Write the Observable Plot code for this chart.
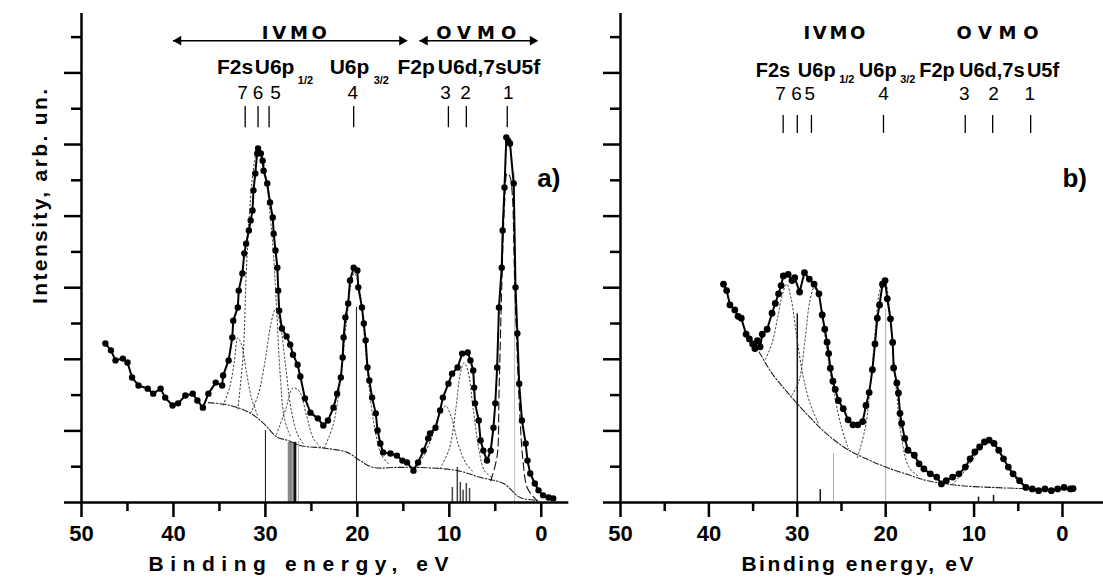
<!DOCTYPE html>
<html><head><meta charset="utf-8">
<script src="https://cdn.jsdelivr.net/npm/d3@7"></script>
<script src="https://cdn.jsdelivr.net/npm/@observablehq/plot@0.6"></script>
<style>
body{margin:0;background:#fff;}
#wrap{display:flex;width:1103px;height:578px;overflow:hidden;}
#wrap svg{flex:none;}
</style></head><body><div id="wrap"></div>
<script>
// ---------- axis ticks ----------
const majorX = [50, 40, 30, 20, 10, 0];
const minorX = [45, 35, 25, 15, 5];
const majorY = [0, 2, 4, 6, 8, 10, 12];
const minorY = [1, 3, 5, 7, 9, 11, 13];
const yTop = 13.66;

// ---------- panel a: experimental spectrum [eV, intensity] ----------
const expA = [
[47.4,4.44],[46.8,4.25],[46.3,3.97],[45.5,4.02],[45.0,3.91],[44.5,3.49],[43.8,3.27],[42.8,3.18],[42.2,3.04],[41.4,3.18],[40.9,2.93],[40.1,2.71],[39.5,2.77],[38.7,2.99],[37.9,3.04],[37.4,2.85],[36.8,2.65],[36.2,3.04],[35.4,3.35],[34.7,3.27],[34.6,3.55],[34.0,3.97],[33.6,4.61],[33.5,5.08],[33.0,5.45],[32.9,5.92],[32.5,6.40],[32.3,6.96],[32.1,7.23],[31.8,7.60],[31.6,7.88],[31.4,8.16],[31.3,8.72],[31.1,9.19],[30.9,9.75],[30.8,9.89],[30.5,9.75],[30.3,9.55],[30.2,9.27],[29.8,8.91],[29.5,8.38],[29.2,7.96],[29.1,7.51],[28.9,7.04],[28.7,6.56],[28.6,5.92],[28.5,5.36],[28.2,4.86],[27.7,4.64],[27.3,4.41],[27.0,4.13],[26.5,3.85],[26.2,3.52],[25.7,2.91],[25.1,2.51],[24.3,2.35],[23.7,2.15],[23.2,2.29],[22.6,2.65],[22.2,3.04],[21.8,3.49],[21.6,4.05],[21.5,4.61],[21.3,5.17],[21.0,5.56],[20.8,6.20],[20.4,6.56],[20.0,6.48],[19.9,6.01],[19.5,5.45],[19.3,5.00],[19.1,4.53],[18.9,3.77],[18.7,3.41],[18.4,2.93],[18.0,2.49],[17.8,2.01],[17.5,1.65],[17.2,1.40],[16.4,1.37],[15.7,1.31],[15.1,1.17],[14.6,1.12],[13.9,0.89],[13.4,1.12],[12.8,1.45],[12.3,1.79],[12.1,1.93],[11.5,2.09],[11.0,2.57],[10.7,2.93],[10.1,3.32],[9.7,3.60],[9.1,3.77],[8.6,4.16],[8.0,4.19],[7.7,3.97],[7.4,3.69],[7.3,3.21],[7.2,2.77],[6.8,2.29],[6.6,1.73],[6.3,1.45],[5.9,1.17],[5.5,1.45],[5.2,2.09],[5.0,2.77],[4.8,3.77],[4.6,5.45],[4.3,6.56],[4.2,7.60],[4.0,8.80],[3.8,10.20],[3.6,10.11],[3.4,10.03],[3.0,8.91],[2.8,6.01],[2.6,4.72],[2.4,3.32],[2.1,2.29],[1.7,1.65],[1.5,1.17],[1.2,0.81],[0.7,0.53],[0.3,0.34],[-0.2,0.20],[-0.8,0.14],[-1.3,0.11]
];
const bgA = [[36.2,2.79],[33.8,2.71],[31.6,2.49],[30.2,2.21],[28.7,1.82],[27.5,1.73],[26.2,1.59],[23.3,1.51],[21.1,1.40],[19.7,1.17],[18.3,0.98],[15.7,0.98],[13.2,0.98],[9.1,0.89],[6.6,0.70],[4.1,0.53],[2.3,0.14],[0.4,0.06]];
const peakA7 = [[34.6,2.72],[33.9,3.2],[33.4,3.9],[33.0,4.6],[32.6,4.4],[32.1,3.7],[31.5,2.9],[30.8,2.4]];
const peakA6 = [[33.0,2.6],[32.4,4.2],[32.1,6.3],[31.7,8.2],[31.2,9.5],[30.8,9.9],[30.3,9.6],[29.8,8.8],[29.2,7.2],[28.8,5.5],[28.4,3.6],[27.9,2.3],[27.2,1.8]];
const peakA5 = [[31.6,2.5],[30.8,3.0],[30.0,4.0],[29.4,5.0],[28.9,5.4],[28.4,5.0],[27.8,3.8],[27.2,2.6],[26.5,1.9],[25.8,1.62]];
const peakA5b = [[28.8,1.9],[27.8,2.6],[27.0,3.2],[26.3,3.1],[25.5,2.4],[24.8,1.8],[24.0,1.55]];
const peakA4 = [[23.6,1.52],[22.6,2.2],[21.8,3.5],[21.2,5.0],[20.7,6.1],[20.3,6.4],[19.8,6.0],[19.3,4.8],[18.8,3.4],[18.2,2.2],[17.4,1.35],[16.5,1.05]];
const peakA3 = [[13.8,0.98],[12.8,1.3],[11.8,1.9],[11.0,2.5],[10.4,2.7],[9.8,2.4],[9.0,1.6],[8.2,1.1],[7.4,0.85]];
const peakA2 = [[11.0,0.95],[10.0,1.5],[9.3,2.6],[8.8,3.6],[8.4,3.9],[8.0,3.7],[7.4,2.6],[6.8,1.5],[6.2,0.9],[5.4,0.7]];
const peakA1 = [[5.5,0.6],[4.8,1.3],[4.6,3.0],[4.3,6.0],[4.0,8.3],[3.7,9.2],[3.4,9.1],[3.15,8.6],[2.9,6.2],[2.6,4.0],[2.3,2.3],[2.0,1.2],[1.5,0.4],[0.5,0.06]];
const theoryA_thin = [[30.0,2.01],[20.1,5.45]];
const theoryA_pale = [[26.4,1.7],[2.9,9.2]];
const theoryA_grey = [[27.3,1.68]];
const theoryA_bold = [[26.8,1.68]];
const theoryA_ovmo = [[9.67,0.42],[9.13,0.98],[8.8,0.56],[8.5,0.34],[8.15,0.53],[7.8,0.39]];

// ---------- panel b ----------
const expB = [
[38.35,6.10],[37.99,5.92],[37.62,5.52],[37.07,5.38],[36.70,5.20],[36.34,5.15],[35.79,4.70],[35.42,4.57],[35.05,4.43],[34.8,4.30],[34.51,4.52],[34.2,4.35],[33.96,4.70],[33.41,4.84],[32.86,5.29],[32.49,5.56],[32.12,5.83],[31.83,6.06],[31.58,6.33],[31.03,6.37],[30.6,6.20],[30.29,6.28],[29.74,5.88],[29.19,6.42],[28.64,6.24],[28.10,6.10],[27.55,5.83],[27.18,5.24],[26.89,4.84],[26.63,4.48],[26.45,4.16],[26.26,3.75],[25.97,3.39],[25.71,3.16],[25.35,2.85],[24.80,2.62],[24.25,2.31],[23.70,2.17],[23.15,2.17],[22.60,2.26],[22.23,2.71],[21.87,3.07],[21.50,3.71],[21.21,4.43],[20.95,5.15],[20.70,5.52],[20.36,6.10],[20.07,6.20],[19.82,5.69],[19.46,5.13],[19.21,4.47],[19.10,3.76],[18.74,3.34],[18.56,3.06],[18.38,2.49],[18.20,2.21],[17.84,1.79],[17.48,1.46],[16.76,1.32],[16.22,1.08],[15.68,0.94],[14.95,0.80],[14.23,0.71],[13.69,0.52],[13.15,0.61],[12.43,0.71],[11.71,0.80],[10.99,0.99],[10.45,1.22],[9.91,1.41],[9.37,1.55],[8.83,1.69],[8.29,1.74],[7.75,1.65],[7.21,1.46],[6.67,1.22],[6.13,0.99],[5.59,0.80],[4.86,0.61],[4.14,0.42],[3.42,0.38],[2.70,0.33],[1.98,0.38],[1.26,0.33],[0.54,0.38],[-0.18,0.42],[-0.90,0.38],[-1.2,0.39]
];
const bgB = [[34.3,4.2],[32.9,3.62],[31.4,3.16],[30.0,2.76],[28.8,2.44],[27.4,2.08],[25.9,1.76],[24.1,1.45],[22.2,1.22],[20.0,0.99],[17.5,0.78],[15.3,0.61],[11.5,0.47],[7.8,0.42],[4.75,0.39],[3.0,0.38]];
const peakB7 = [[33.6,4.0],[32.8,4.5],[32.2,5.2],[31.7,5.8],[31.2,6.1],[30.7,5.7],[30.1,4.7],[29.4,3.6],[28.6,2.8],[27.6,2.2]];
const peakB5 = [[30.6,3.0],[29.8,3.4],[29.1,4.6],[28.6,5.6],[28.1,6.0],[27.5,5.7],[27.0,4.9],[26.5,4.0],[25.8,3.0],[25.0,2.1],[24.2,1.5]];
const peakB4 = [[23.2,1.25],[22.3,2.1],[21.6,3.6],[21.1,5.0],[20.6,6.0],[20.1,6.2],[19.6,5.5],[19.2,4.3],[18.7,2.9],[18.2,1.8],[17.4,1.0],[16.4,0.75]];
const peakB2 = [[12.5,0.5],[11.0,0.9],[9.8,1.35],[8.8,1.65],[8.0,1.7],[7.2,1.45],[6.3,1.05],[5.4,0.7],[4.4,0.45]];
const theoryB_bold = [[30.0,5.27],[27.4,0.36],[9.5,0.15],[7.8,0.2]];
const theoryB_pale = [[20.0,5.4],[25.9,1.37]];

// ---------- annotation texts [text, eV] ----------
const groupsA = [["IVMO",26.85],["OVMO",7.07]];
const arrowsA = [[40.0,14.6],[13.2,0.4]];
const orbitalsA = [["F2s",33.3],["U6p",29.0],["U6p",20.85],["F2p",13.6],["U6d,7s",7.5],["U5f",1.95]];
const subsA = [["1/2",25.65],["3/2",17.4]];
const numbersA = [["7",32.5],["6",30.8],["5",28.9],["4",20.5],["3",10.4],["2",8.25],["1",3.6]];
const marksA = [32.2,30.8,29.6,20.4,10.1,8.15,3.7];

const groupsB = [["IVMO",25.8],["OVMO",7.35]];
const orbitalsB = [["F2s",32.75],["U6p",27.8],["U6p",20.9],["F2p",14.2],["U6d,7s",8.0],["U5f",2.2]];
const subsB = [["1/2",24.4],["3/2",17.5]];
const numbersB = [["7",31.9],["6",30.1],["5",28.6],["4",20.25],["3",11.1],["2",7.8],["1",3.7]];
const boldNumbersB = ["4","1"];
const marksB = [31.6,30.0,28.4,20.25,11.0,7.9,3.6];

const X = d => d[0], Y = d => d[1];
const font = "Liberation Sans, Arial, Helvetica, sans-serif";
const wideFont = "DejaVu Sans, Liberation Sans, sans-serif";

function panel(cfg) {
  const dotted = {x: X, y: Y, stroke: "#333", strokeWidth: 1, strokeDasharray: "1.5,2.5", curve: "catmull-rom"};
  const marks = [];
  for (const t of cfg.theory) {
    marks.push(Plot.ruleX(t.data, {x: X, y1: () => 0, y2: Y, stroke: t.stroke, strokeWidth: t.w}));
  }
  marks.push(Plot.line(cfg.bg, {x: X, y: Y, stroke: "#222", strokeWidth: 1.1, strokeDasharray: "6,2,1.5,2", curve: "catmull-rom"}));
  for (const p of cfg.peaks) marks.push(Plot.line(p, dotted));
  if (cfg.dashPeak) marks.push(Plot.line(cfg.dashPeak, {x: X, y: Y, stroke: "#111", strokeWidth: 1.1, strokeDasharray: "8,4", curve: "catmull-rom"}));
  marks.push(Plot.line(cfg.exp, {x: X, y: Y, stroke: "black", strokeWidth: 2}));
  marks.push(Plot.dot(cfg.exp, {x: X, y: Y, r: cfg.r, fill: "black"}));
  // axes
  marks.push(Plot.ruleY([0], {x1: () => 50, x2: () => cfg.axisEnd, strokeWidth: 2.5}));
  marks.push(Plot.ruleX([50], {y1: () => 0, y2: () => yTop, strokeWidth: 2.5}));
  marks.push(Plot.axisX(majorX, {tickSize: 15, tickPadding: 8, strokeWidth: 2.5, fontSize: 22, fontWeight: "bold", label: null, tickFormat: d => String(d)}));
  marks.push(Plot.axisX(minorX, {tickSize: 9, strokeWidth: 2.5, label: null, tickFormat: () => ""}));
  marks.push(Plot.axisY(majorY, {tickSize: 17, strokeWidth: 2.5, label: null, tickFormat: () => ""}));
  marks.push(Plot.axisY(minorY, {tickSize: 10, strokeWidth: 2.5, label: null, tickFormat: () => ""}));
  // annotations
  marks.push(Plot.text(cfg.groups, {x: Y, y: () => 12.96, text: X, fontSize: 18, fontWeight: "bold", fontFamily: wideFont, lineAnchor: "bottom"}));
  if (cfg.arrows) {
    marks.push(Plot.ruleY(cfg.arrows, {x1: X, x2: Y, y: () => 12.9, strokeWidth: 1.6}));
    marks.push(Plot.dot(cfg.arrows, {x: X, y: () => 12.9, symbol: "triangle", rotate: -90, r: 3.6, fill: "black", dx: 5}));
    marks.push(Plot.dot(cfg.arrows, {x: Y, y: () => 12.9, symbol: "triangle", rotate: 90, r: 3.6, fill: "black", dx: -5}));
  }
  marks.push(Plot.text(cfg.orbitals, {x: Y, y: () => cfg.orbY, text: X, fontSize: cfg.orbSize, fontWeight: "bold", lineAnchor: "bottom"}));
  marks.push(Plot.text(cfg.subs, {x: Y, y: () => cfg.subY, text: X, fontSize: 11, fontWeight: "bold", lineAnchor: "bottom"}));
  marks.push(Plot.text(cfg.numbers, {x: Y, y: () => cfg.numY, text: X, fontSize: 19,
    fontWeight: d => cfg.boldNums && cfg.boldNums.includes(d[0]) ? "bold" : "normal", lineAnchor: "bottom"}));
  marks.push(Plot.ruleX(cfg.marks, {x: d => d, y1: () => cfg.markY[0], y2: () => cfg.markY[1], strokeWidth: 1.3}));
  marks.push(Plot.text([cfg.tag], {x: () => cfg.tagX, y: () => 8.8, text: d => d, fontSize: 26, fontWeight: "bold", textAnchor: "start", lineAnchor: "bottom"}));
  marks.push(Plot.text(["Binding energy, eV"], {x: () => cfg.titleX, y: () => -1.9, text: d => d, fontSize: 21, fontWeight: "bold", lineAnchor: "bottom"}));
  if (cfg.ylabel) {
    marks.push(Plot.text([cfg.ylabel], {x: () => 50, y: () => 8.55, dx: -41, rotate: -90, text: d => d, fontSize: 21, fontWeight: "bold", lineAnchor: "middle"}));
  }
  const svg = Plot.plot({
    width: cfg.width, height: 578,
    marginLeft: cfg.ml, marginRight: cfg.mr, marginTop: 13, marginBottom: 76,
    x: {domain: [50, cfg.xEnd]},
    y: {domain: [0, yTop]},
    style: {fontFamily: font, background: "transparent", overflow: "visible", color: "black"},
    marks
  });
  // stretch texts to the widths seen in the reference
  d3.select(svg).selectAll("text").each(function() {
    const t = this.textContent;
    if (cfg.lengths[t]) d3.select(this).attr("textLength", cfg.lengths[t]).attr("lengthAdjust", "spacing");
  });
  return svg;
}

const svgA = panel({
  width: 570, ml: 81, mr: 9, xEnd: -2.2, axisEnd: -3.0, r: 3.2,
  exp: expA, bg: bgA, peaks: [peakA7, peakA6, peakA5, peakA5b, peakA4, peakA3, peakA2], dashPeak: peakA1,
  theory: [
    {data: theoryA_pale, stroke: "#bbb", w: 1},
    {data: theoryA_grey, stroke: "#888", w: 5},
    {data: theoryA_bold, stroke: "#111", w: 3},
    {data: theoryA_thin, stroke: "#111", w: 1},
    {data: theoryA_ovmo, stroke: "#444", w: 1.5}
  ],
  groups: groupsA, arrows: arrowsA, orbitals: orbitalsA, orbSize: 21, subs: subsA, numbers: numbersA,
  orbY: 11.98, subY: 11.7, numY: 11.28, marks: marksA, markY: [10.47, 11.06],
  tag: "a)", tagX: 0.43, titleX: 26.4, ylabel: "Intensity, arb. un.",
  lengths: {"IVMO": 65, "OVMO": 80, "Binding energy, eV": 300, "Intensity, arb. un.": 215}
});
const svgB = panel({
  width: 533, ml: 50, mr: 0, xEnd: -4.64, axisEnd: -4.64, r: 3.4,
  exp: expB, bg: bgB, peaks: [peakB7, peakB5, peakB4, peakB2],
  theory: [
    {data: theoryB_pale, stroke: "#aaa", w: 1},
    {data: theoryB_bold, stroke: "#111", w: 1.5}
  ],
  groups: groupsB, orbitals: orbitalsB, orbSize: 20, subs: subsB, numbers: numbersB, boldNums: boldNumbersB,
  orbY: 11.9, subY: 11.73, numY: 11.23, marks: marksB, markY: [10.31, 10.81],
  tag: "b)", tagX: 0.0, titleX: 23.2,
  lengths: {"IVMO": 62, "OVMO": 82, "Binding energy, eV": 232}
});
document.getElementById("wrap").append(svgA, svgB);
</script>
</body></html>
